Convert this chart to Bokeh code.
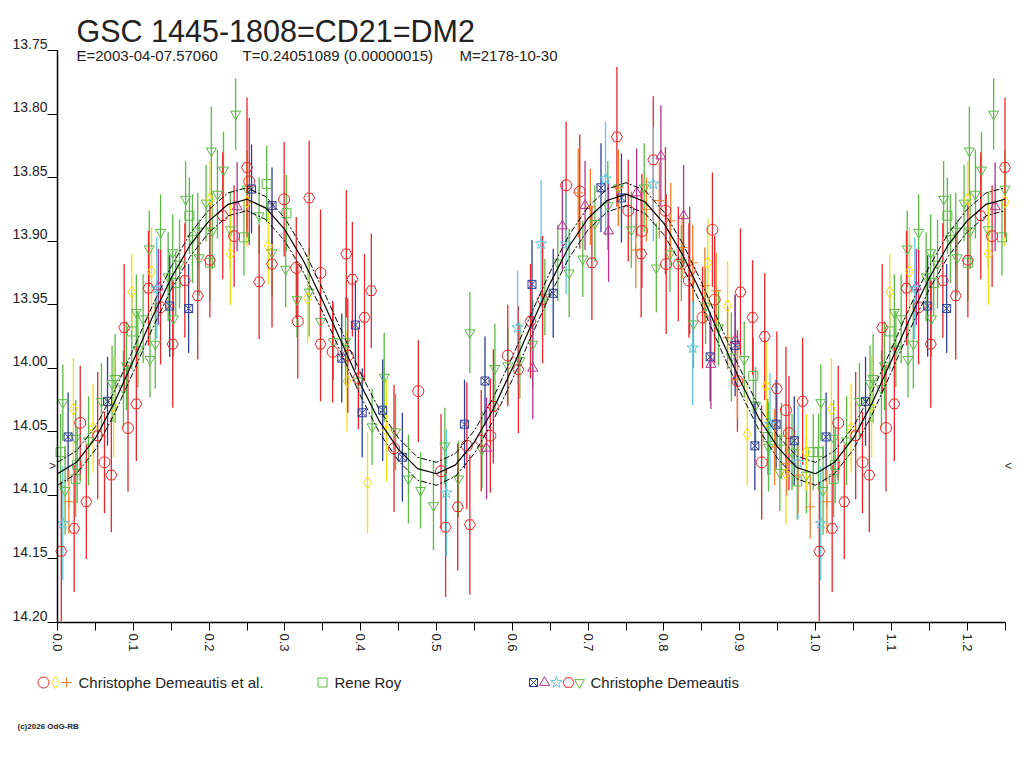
import math
from bokeh.plotting import figure
from bokeh.models import Range1d, FixedTicker, LinearAxis
from bokeh.embed import file_html
from bokeh.resources import INLINE
from bokeh.core.properties import value

FONT = "Liberation Sans"
TITLE = "GSC 1445-1808=CD21=DM2"
SUBTITLE_PARTS = ["E=2003-04-07.57060", "T=0.24051089 (0.00000015)", "M=2178-10-30"]
COPYRIGHT = "(c)2026 OdG-RB"
LEG_TEXT = ["Christophe Demeautis et al.", "Rene Roy", "Christophe Demeautis"]
X_MIN, X_MAX = 0.0, 1.25
Y_TOP, Y_BOT = 13.75, 14.20
Y_TICKS = [13.75, 13.80, 13.85, 13.90, 13.95, 14.00, 14.05, 14.10, 14.15, 14.20]
X_TICKS = [0.0, 0.1, 0.2, 0.3, 0.4, 0.5, 0.6, 0.7, 0.8, 0.9, 1.0, 1.1, 1.2]
X_MINOR = [0.05, 0.15, 0.25, 0.35, 0.45, 0.55, 0.65, 0.75, 0.85, 0.95, 1.05, 1.15, 1.25]
EDGE_LEVEL = 14.077

# ---------------- observations (phase, magnitude, error) ----------------
RC_PH = [0.030,0.062,0.093,0.136,0.233,0.253,0.299,0.315,0.317,0.347,
         0.363,0.383,0.397,0.444,0.476,0.506,0.540,0.559,0.571,0.594,
         0.671,0.689,0.753,0.771,0.802,0.803,0.833,0.834,0.851,0.864,
         0.867,0.897,0.929,0.961,0.965]
RC_MAG = [14.043,14.074,14.047,13.952,13.896,13.853,13.867,13.921,13.963,13.925,
          13.987,13.990,14.008,14.063,14.018,14.081,14.061,14.057,14.053,13.990,
          13.856,13.861,13.876,13.892,13.876,13.918,13.931,13.923,13.960,13.891,
          13.946,14.010,14.074,14.033,14.051]
RC_ERR = [0.045,0.040,0.050,0.045,0.040,0.050,0.045,0.040,0.045,0.050,
          0.040,0.045,0.040,0.050,0.040,0.045,0.050,0.040,0.045,0.040,
          0.050,0.045,0.040,0.045,0.050,0.055,0.045,0.050,0.040,0.045,
          0.050,0.040,0.045,0.050,0.045]

YD_PH = [0.021,0.047,0.074,0.098,0.124,0.201,0.228,0.250,0.278,0.330,
         0.382,0.409,0.434,0.858,0.884,0.910,0.935,0.961,0.988]
YD_MAG = [14.032,14.047,14.030,13.940,13.924,13.867,13.910,13.869,13.904,13.945,
          14.010,14.090,14.049,13.917,13.951,14.052,14.014,14.083,14.066]
YD_ERR = [0.040,0.035,0.040,0.030,0.035,0.030,0.040,0.035,0.030,0.035,
          0.040,0.040,0.040,0.035,0.035,0.040,0.035,0.040,0.030]

OS_PH = [0.015,0.687,0.703,0.740,0.763,0.777,0.794,0.809,0.824,0.838,
         0.854,0.869,0.884,0.897,0.946,0.962,0.977,0.993]
OS_MAG = [14.105,13.862,13.873,13.858,13.907,13.875,13.868,13.884,13.905,13.917,
          13.935,13.939,13.976,14.009,14.062,14.075,14.084,14.109]
OS_ERR = [0.025,0.035,0.030,0.030,0.030,0.025,0.030,0.030,0.025,0.030,
          0.030,0.030,0.025,0.030,0.030,0.025,0.030,0.025]

GS_PH = [0.004,0.024,0.026,0.098,0.156,0.174,0.201,0.246,0.276,0.302,
         0.918,0.937,0.955,0.976,0.997]
GS_MAG = [14.066,14.087,14.076,13.971,13.933,13.880,13.917,13.897,13.855,13.878,
          14.006,14.054,14.057,14.089,14.066]
GS_ERR = [0.030,0.030,0.030,0.030,0.025,0.030,0.030,0.030,0.030,0.030,
          0.030,0.030,0.030,0.030,0.030]

BX_PH = [0.014,0.066,0.148,0.173,0.256,0.283,0.375,0.393,0.402,0.429,
         0.455,0.537,0.564,0.626,0.654,0.717,0.744,0.861,0.894,0.920,
         0.948,0.972]
BX_MAG = [14.054,14.026,13.951,13.953,13.859,13.872,13.992,13.966,14.035,14.033,
          14.070,14.044,14.010,13.934,13.941,13.858,13.866,13.991,13.982,14.061,
          14.044,14.057]
BX_ERR = [0.035,0.035,0.040,0.035,0.035,0.030,0.035,0.035,0.035,0.040,
          0.035,0.035,0.035,0.035,0.035,0.035,0.035,0.035,0.040,0.035,
          0.035,0.035]

MT_PH = [0.133,0.237,0.566,0.627,0.666,0.696,0.727,0.764,0.796,0.826,
         0.862,0.894]
MT_MAG = [13.936,13.873,14.063,14.000,13.888,13.872,13.892,13.862,13.833,13.880,
          13.997,13.978]
MT_ERR = [0.030,0.035,0.040,0.040,0.035,0.035,0.040,0.035,0.040,0.040,
          0.035,0.035]

CS_PH = [0.007,0.131,0.513,0.607,0.638,0.671,0.723,0.786,0.838,0.940,
         0.977]
CS_MAG = [14.122,13.937,14.098,13.968,13.902,13.902,13.851,13.855,13.984,14.044,
          14.074]
CS_ERR = [0.045,0.040,0.050,0.045,0.050,0.040,0.045,0.045,0.045,0.040,
          0.045]

RP_PH = [0.005,0.022,0.038,0.053,0.071,0.088,0.104,0.120,0.152,0.168,
         0.185,0.201,0.218,0.250,0.266,0.283,0.332,0.347,0.381,0.389,
         0.405,0.414,0.512,0.528,0.544,0.575,0.608,0.624,0.640,0.705,
         0.738,0.770,0.786,0.819,0.901,0.917,0.933,0.949,0.983]
RP_MAG = [14.144,14.126,14.105,14.053,14.084,13.968,14.028,13.937,13.981,13.931,
          13.943,13.915,13.880,13.842,13.932,13.918,13.866,13.981,13.910,13.930,
          13.960,13.939,14.125,14.109,14.123,14.030,14.001,13.963,13.946,13.917,
          13.818,13.910,13.836,13.918,13.940,13.960,13.975,14.016,14.026]
RP_ERR = [0.055,0.050,0.045,0.050,0.045,0.050,0.045,0.045,0.050,0.045,
          0.050,0.045,0.050,0.055,0.045,0.050,0.045,0.045,0.050,0.045,
          0.050,0.045,0.055,0.050,0.055,0.045,0.050,0.045,0.050,0.045,
          0.055,0.050,0.050,0.045,0.050,0.045,0.050,0.045,0.050]

GT_PH = [0.007,0.010,0.024,0.041,0.058,0.072,0.076,0.087,0.091,0.104,
         0.106,0.113,0.121,0.122,0.129,0.136,0.146,0.152,0.153,0.161,
         0.169,0.178,0.185,0.187,0.196,0.203,0.204,0.211,0.219,0.228,
         0.235,0.250,0.266,0.283,0.301,0.316,0.332,0.347,0.364,0.380,
         0.397,0.415,0.431,0.446,0.463,0.479,0.496,0.511,0.529,0.544,
         0.560,0.577,0.594,0.610,0.627,0.643,0.660,0.675,0.693,0.709,
         0.726,0.740,0.757,0.774,0.790,0.808,0.823,0.839,0.855,0.872,
         0.889,0.906,0.921,0.938,0.953,0.969,0.988]
GT_MAG = [14.027,14.096,14.055,14.057,14.026,14.012,14.008,14.016,13.998,13.956,
          13.985,13.961,13.906,13.993,13.981,13.893,13.928,13.909,13.961,13.918,
          13.867,13.898,13.892,13.913,13.870,13.829,13.892,13.863,13.844,13.891,
          13.800,13.859,13.880,13.909,13.922,13.946,13.940,13.963,13.979,13.979,
          14.010,14.046,14.007,14.050,14.087,14.096,14.108,14.061,14.087,13.972,
          14.064,14.000,13.998,13.994,13.981,13.944,13.917,13.925,13.914,13.886,
          13.872,13.858,13.891,13.858,13.921,13.910,13.917,13.965,13.951,13.968,
          13.991,13.993,14.029,14.062,14.082,14.066,14.084]
GT_ERR = [0.030,0.035,0.030,0.035,0.030,0.030,0.035,0.030,0.035,0.030,
          0.030,0.035,0.030,0.030,0.035,0.030,0.035,0.030,0.030,0.035,
          0.030,0.035,0.030,0.030,0.030,0.035,0.030,0.035,0.030,0.030,
          0.028,0.030,0.030,0.035,0.030,0.030,0.035,0.030,0.030,0.035,
          0.030,0.030,0.035,0.030,0.035,0.030,0.035,0.030,0.030,0.032,
          0.030,0.035,0.030,0.030,0.035,0.030,0.030,0.035,0.030,0.030,
          0.035,0.030,0.030,0.035,0.035,0.030,0.030,0.035,0.030,0.030,
          0.035,0.030,0.030,0.035,0.030,0.030,0.030]

# ---------------- fitted light curve ----------------
CURVE_PH = [0.000,0.025,0.050,0.075,0.100,0.125,0.150,0.175,0.200,0.225,
            0.250,0.275,0.300,0.325,0.350,0.375,0.400,0.425,0.450,0.475,
            0.500,0.525,0.550,0.575,0.600,0.625,0.650,0.675,0.700,0.725,
            0.750,0.775,0.800,0.825,0.850,0.875,0.900,0.925,0.950,0.975,
            1.000,1.025,1.050,1.075,1.100,1.125,1.150,1.175,1.200,1.225,1.250]
CURVE_MAG = [14.083,14.074,14.055,14.027,13.994,13.960,13.929,13.903,13.884,13.871,
             13.867,13.874,13.891,13.916,13.947,13.980,14.013,14.042,14.064,14.079,
             14.083,14.076,14.058,14.032,14.000,13.966,13.933,13.904,13.882,13.868,
             13.863,13.869,13.886,13.911,13.942,13.976,14.009,14.039,14.062,14.078,
             14.083,14.074,14.055,14.027,13.994,13.960,13.929,13.903,13.884,13.871,13.867]
ENVELOPE = 0.009

RED = "#e8262b"
YELLOW = "#f3e010"
ORANGE = "#f0802a"
GREEN = "#5cb946"
BLUE = "#2e3f98"
MAGENTA = "#b3348a"
CYAN = "#62c6dc"
INK = "#222222"

SERIES = [
    (GT_PH, GT_MAG, GT_ERR, GREEN, "inverted_triangle", 10),
    (GS_PH, GS_MAG, GS_ERR, GREEN, "square", 9),
    (YD_PH, YD_MAG, YD_ERR, YELLOW, "diamond", 12),
    (RC_PH, RC_MAG, RC_ERR, RED, "circle", 11),
    (RP_PH, RP_MAG, RP_ERR, RED, "hex", 11),
    (BX_PH, BX_MAG, BX_ERR, BLUE, "square_x", 8),
    (MT_PH, MT_MAG, MT_ERR, MAGENTA, "triangle", 10),
    (CS_PH, CS_MAG, CS_ERR, CYAN, "star", 12),
    (OS_PH, OS_MAG, OS_ERR, ORANGE, "cross", 10),
]

# ---------------- page geometry (pixels) ----------------
W, H = 1024, 768
PLOT_L, PLOT_R, PLOT_T, PLOT_B = 57, 1004.5, 50, 622
XS = (PLOT_R - PLOT_L) / (X_MAX - X_MIN)      # px per phase unit
YS = (PLOT_B - PLOT_T) / (Y_BOT - Y_TOP)      # px per magnitude


def dx(px):
    return X_MIN + (px - PLOT_L) / XS


def dy(py):
    return Y_TOP + (py - PLOT_T) / YS


def wrap(ph, mg, er):
    xs, ys, es = [], [], []
    for a, b, c in zip(ph, mg, er):
        xs.append(a); ys.append(b); es.append(c)
        if a + 1.0 <= X_MAX:
            xs.append(a + 1.0); ys.append(b); es.append(c)
    return xs, ys, es


# the frame covers the whole page; axes are pinned with fixed_location + bounds
p = figure(width=W, height=H, x_range=Range1d(dx(0), dx(W)), y_range=Range1d(dy(H), dy(0)),
           output_backend="svg", toolbar_location=None, min_border=0)
p.outline_line_color = None
p.xgrid.visible = False
p.ygrid.visible = False
p.background_fill_color = "white"

# x axis
xa = p.xaxis[0]
xa.fixed_location = Y_BOT
xa.bounds = (X_MIN, X_MAX)
xa.ticker = FixedTicker(ticks=X_TICKS, minor_ticks=X_MINOR)
xa.major_label_overrides = {t: f"{t:.1f}" for t in X_TICKS}
xa.major_label_orientation = -math.pi / 2
xa.major_label_text_font = FONT
xa.major_label_text_font_size = "13px"
xa.major_label_text_color = INK
xa.major_label_standoff = 3
xa.major_tick_out = 8
xa.major_tick_in = 0
xa.minor_tick_out = 8
xa.minor_tick_in = 0
xa.axis_line_width = 1.5

# y axis (line + ticks)
ya = p.yaxis[0]
ya.fixed_location = X_MIN
ya.bounds = (Y_TOP, Y_BOT)
ya.ticker = FixedTicker(ticks=Y_TICKS, minor_ticks=[])
ya.major_label_overrides = {t: "" for t in Y_TICKS}
ya.major_tick_out = 10
ya.major_tick_in = 0
ya.axis_line_width = 1.5

# y tick labels: they sit 7 px above their ticks, so they use a shifted range
LABEL_LIFT = 7 / YS
p.extra_y_ranges = {"labels": Range1d(dy(H) + LABEL_LIFT, dy(0) + LABEL_LIFT)}
yl = LinearAxis(y_range_name="labels", fixed_location=X_MIN,
                ticker=FixedTicker(ticks=Y_TICKS, minor_ticks=[]),
                major_label_overrides={t: f"{t:.2f}" for t in Y_TICKS},
                major_label_standoff=10, major_tick_out=0, major_tick_in=0,
                axis_line_color=None, major_tick_line_color=None, minor_tick_line_color=None,
                major_label_text_font=FONT, major_label_text_font_size="14px",
                major_label_text_color=INK)
p.add_layout(yl, "left")

# error bars and markers
for ph, mg, er, col, mk, sz in SERIES:
    xs, ys, es = wrap(ph, mg, er)
    p.segment(x0=xs, y0=[y - e for y, e in zip(ys, es)], x1=xs, y1=[y + e for y, e in zip(ys, es)],
              line_color=col, line_width=1.3)
for ph, mg, er, col, mk, sz in SERIES:
    xs, ys, es = wrap(ph, mg, er)
    p.scatter(xs, ys, marker=mk, size=sz, line_color=col, fill_color=None, line_width=1.0)

# fitted curve and its envelope
p.line(CURVE_PH, CURVE_MAG, line_color="black", line_width=1.2)
p.line(CURVE_PH, [m - ENVELOPE for m in CURVE_MAG], line_color="black", line_width=1,
       line_dash="6 2 2 2")
p.line(CURVE_PH, [m + ENVELOPE for m in CURVE_MAG], line_color="black", line_width=1,
       line_dash="6 2 2 2")

# edge markers of the mean level
p.text(x=[dx(52), dx(1008)], y=[EDGE_LEVEL, EDGE_LEVEL], text=[">", "<"],
       text_font=value(FONT), text_font_size="12px", text_align="center",
       text_baseline="middle", text_color="#333333")

# title and subtitle
p.text(x=[dx(76)], y=[dy(30)], text=[TITLE], text_font=value(FONT), text_font_size="30.5px",
       text_align="left", text_baseline="alphabetic", text_color=INK)
SUB_X = [76, 242, 459]
p.text(x=[dx(v) for v in SUB_X], y=[dy(55)] * 3, text=SUBTITLE_PARTS, text_font=value(FONT),
       text_font_size="15px", text_align="left", text_baseline="alphabetic", text_color=INK)

# legend row
LEG_Y = dy(682)
LEG_MARKS = [
    (43, RED, "circle", 11), (55, YELLOW, "diamond", 12), (66, ORANGE, "cross", 10),
    (322, GREEN, "square", 9),
    (533, BLUE, "square_x", 8), (544, MAGENTA, "triangle", 10), (556, CYAN, "star", 12),
    (568, RED, "hex", 11), (579, GREEN, "inverted_triangle", 10),
]
for x, col, mk, sz in LEG_MARKS:
    p.scatter([dx(x)], [LEG_Y], marker=mk, size=sz, line_color=col, fill_color=None,
              line_width=1.0)
LEG_TEXT_X = [78, 334, 590]
p.text(x=[dx(v) for v in LEG_TEXT_X], y=[LEG_Y] * 3, text=LEG_TEXT, text_font=value(FONT),
       text_font_size="15px", text_baseline="middle", text_align="left", text_color=INK)
p.text(x=[dx(17)], y=[dy(726)], text=[COPYRIGHT], text_font=value(FONT), text_font_size="8px",
       text_font_style="bold", text_baseline="middle", text_align="left", text_color=INK)

open("out.html", "w").write(file_html(p, INLINE))
